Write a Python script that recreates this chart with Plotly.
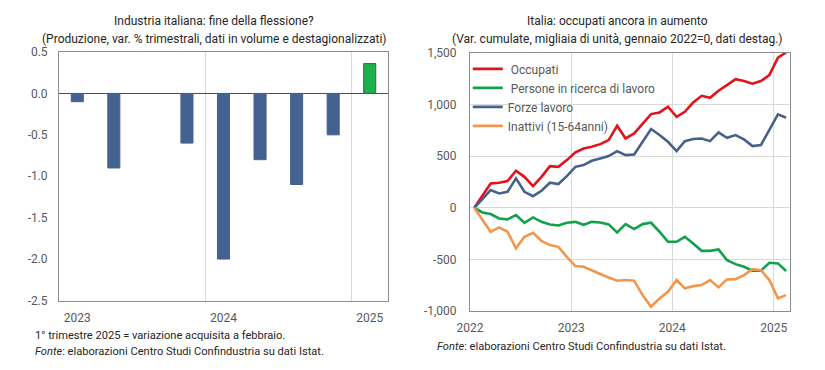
import plotly.graph_objects as go
import pandas as pd

# ---------------- Left chart data ----------------
quarters = ["T1 2023", "T2 2023", "T3 2023", "T4 2023",
            "T1 2024", "T2 2024", "T3 2024", "T4 2024", "T1 2025"]
produzione = [-0.1, -0.9, None, -0.6, -2.0, -0.8, -1.1, -0.5, 0.36]
left_tick_labels = ["2023", "2024", "2025"]
left_tick_idx = [0, 4, 8]
left_y_ticks = [0.5, 0.0, -0.5, -1.0, -1.5, -2.0, -2.5]
left_y_text = ["0.5", "0.0", "-0.5", "-1.0", "-1.5", "-2.0", "-2.5"]

# ---------------- Right chart data ----------------
months = pd.date_range("2022-01-01", periods=38, freq="MS")
occupati = [0, 120, 236, 243, 259, 359, 300, 210, 300, 404, 397, 462, 537, 575,
            591, 617, 656, 795, 672, 721, 818, 908, 924, 979, 882, 930, 1021,
            1085, 1066, 1134, 1189, 1247, 1228, 1202, 1228, 1286, 1454, 1505]
ricerca = [0, -45, -61, -103, -112, -71, -145, -93, -136, -161, -171, -145, -136,
           -165, -136, -142, -161, -238, -158, -206, -158, -145, -232, -329, -329,
           -281, -345, -417, -417, -403, -507, -546, -572, -610, -610, -533, -539, -613]
forze = [0, 87, 172, 139, 155, 285, 155, 113, 165, 243, 230, 307, 397, 414, 455,
         478, 501, 549, 510, 517, 640, 763, 705, 640, 549, 646, 666, 672, 646, 731,
         678, 705, 663, 598, 608, 753, 905, 872]
inattivi = [0, -119, -232, -190, -232, -393, -281, -242, -320, -361, -378, -475,
            -565, -572, -610, -642, -675, -707, -700, -707, -846, -959, -878, -814,
            -700, -781, -759, -749, -700, -771, -694, -691, -652, -594, -604, -700,
            -878, -846]
right_y_ticks = [1500, 1000, 500, 0, -500, -1000]
right_y_text = ["1,500", "1,000", "500", "0", "-500", "-1,000"]
right_x_ticks = ["2022-01-01", "2023-01-01", "2024-01-01", "2025-01-01"]
right_x_text = ["2022", "2023", "2024", "2025"]

FONT = "Roboto"
TXT = "#262626"
TICK = "#595959"
GRID = "#d9d9d9"
BORDER = "#8c8c8c"

fig = go.Figure()

bar_colors = ["#44628f"] * (len(produzione) - 1) + ["#1db04b"]
line_colors = ["#44628f"] * (len(produzione) - 1) + ["#2e6b3a"]
fig.add_trace(go.Bar(
    x=list(range(len(quarters))), y=produzione, width=0.33,
    marker=dict(color=bar_colors, line=dict(color=line_colors, width=1)),
    customdata=quarters, showlegend=False, xaxis="x", yaxis="y",
))

series = [
    ("\u00a0Occupati", occupati, "#e3121b"),
    ("\u00a0Persone in ricerca di lavoro", ricerca, "#12a04a"),
    ("Forze lavoro", forze, "#46618c"),
    ("Inattivi (15-64anni)", inattivi, "#f2964c"),
]
for name, vals, col in series:
    fig.add_trace(go.Scatter(
        x=months, y=vals, mode="lines", name=name,
        line=dict(color=col, width=2.6),
        xperiod="M1", xperiodalignment="middle",
        xaxis="x2", yaxis="y2",
    ))

fig.update_layout(
    width=825, height=370,
    margin=dict(l=0, r=0, t=0, b=0, autoexpand=False),
    paper_bgcolor="white", plot_bgcolor="white",
    font=dict(family=FONT, size=12, color=TICK),
    showlegend=True,
    legend=dict(x=0.567, y=0.853, xanchor="left", yanchor="top",
                bgcolor="rgba(0,0,0,0)", font=dict(size=12, color=TICK),
                tracegroupgap=0, itemwidth=30),
    xaxis=dict(
        domain=[59 / 825, 388 / 825], range=[-0.5, len(quarters) - 0.5],
        tickmode="array", tickvals=left_tick_idx, ticktext=left_tick_labels,
        showgrid=False, zeroline=False, automargin=False,
        minor=dict(tick0=-0.5, dtick=4, showgrid=True, gridcolor=GRID, gridwidth=1, ticklen=0),
        showline=True, mirror=True, linecolor=BORDER, linewidth=1,
        ticks="", ticklabelstandoff=6, tickfont=dict(size=12, color=TICK),
    ),
    yaxis=dict(
        domain=[1 - 300.5 / 370, 1 - 52 / 370], range=[-2.5, 0.5],
        tickmode="array", tickvals=left_y_ticks, ticktext=left_y_text,
        showgrid=False, zeroline=True, zerolinecolor="#4d4d4d", zerolinewidth=1,
        showline=True, mirror=True, linecolor=BORDER, linewidth=1, automargin=False,
        ticks="", ticklabelstandoff=8, tickfont=dict(size=12, color=TICK),
    ),
    xaxis2=dict(
        domain=[470 / 825, 790 / 825], range=["2022-01-01", "2025-03-01"],
        type="date", tickmode="array", tickvals=right_x_ticks, ticktext=right_x_text,
        showgrid=True, gridcolor=GRID, zeroline=False, automargin=False,
        showline=True, mirror=True, linecolor=BORDER, linewidth=1,
        ticks="", ticklabelstandoff=6, tickfont=dict(size=12, color=TICK),
        anchor="y2",
    ),
    yaxis2=dict(
        domain=[1 - 311 / 370, 1 - 53 / 370], range=[-1000, 1500],
        tickmode="array", tickvals=right_y_ticks, ticktext=right_y_text,
        showgrid=True, gridcolor=GRID, zeroline=True, zerolinecolor=GRID, zerolinewidth=1,
        showline=True, mirror=True, linecolor=BORDER, linewidth=1, automargin=False,
        ticks="", ticklabelstandoff=10, tickfont=dict(size=12, color=TICK),
        anchor="x2",
    ),
)

annotations = [
    dict(text="Industria italiana: fine della flessione?", x=214 / 825, y=1 - 21.5 / 370),
    dict(text="(Produzione, var. % trimestrali, dati in volume e destagionalizzati)",
         x=214 / 825, y=1 - 38.5 / 370),
    dict(text="Italia: occupati ancora in aumento", x=617 / 825, y=1 - 21.5 / 370),
    dict(text="(Var. cumulate, migliaia di unità, gennaio 2022=0, dati destag.)",
         x=617 / 825, y=1 - 38.5 / 370),
]
for a in annotations:
    a.update(xref="paper", yref="paper", xanchor="center", yanchor="middle", showarrow=False,
             font=dict(size=12, color=TXT))

notes = [
    dict(text="1° trimestre 2025 = variazione acquisita a febbraio.", x=33 / 825, y=1 - 335 / 370),
    dict(text="<i>Fonte</i>: elaborazioni Centro Studi Confindustria su dati Istat.", x=33 / 825, y=1 - 351 / 370),
    dict(text="<i>Fonte</i>: elaborazioni Centro Studi Confindustria su dati Istat.", x=435 / 825, y=1 - 346 / 370),
]
for n in notes:
    n.update(xref="paper", yref="paper", xanchor="left", yanchor="middle", showarrow=False,
             font=dict(size=11.1, color=TXT))

fig.update_layout(annotations=annotations + notes)
fig.write_html("out.html", config={"displayModeBar": False},
               post_script="document.body.style.margin='0px';")
